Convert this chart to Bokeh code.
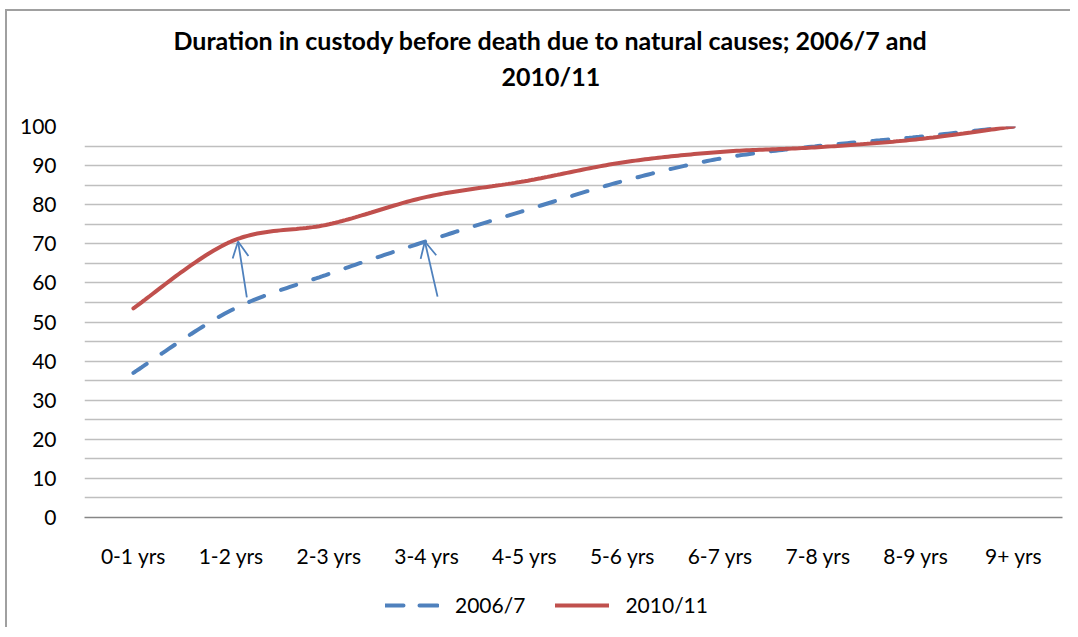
import numpy as np
from bokeh.plotting import figure
from bokeh.layouts import column
from bokeh.models import (FixedTicker, Legend, LegendItem, Title, Arrow, OpenHead,
                          Range1d)
from bokeh.embed import file_html
from bokeh.resources import INLINE

categories = ["0-1 yrs", "1-2 yrs", "2-3 yrs", "3-4 yrs", "4-5 yrs",
              "5-6 yrs", "6-7 yrs", "7-8 yrs", "8-9 yrs", "9+ yrs"]
s2006 = [37, 53, 62.3, 70.7, 78.5, 86, 91.8, 95, 97.3, 100]
s2010 = [53.5, 70.6, 75, 82, 86, 90.8, 93.5, 94.7, 96.7, 100]
y_ticks = [0, 10, 20, 30, 40, 50, 60, 70, 80, 90, 100]
series_names = ["2006/7", "2010/11"]
title_line1 = "Duration in custody before death due to natural causes; 2006/7 and"
title_line2 = "2010/11"

# annotation arrows (data coords: category index, value)
arrow_tail_x = [1.16, 3.11]
arrow_tail_y = [56.3, 56.5]
arrow_head_x = [1.07, 2.98]
arrow_head_y = [70.6, 70.6]

FONT = "Lato"
BLUE = "#4F81BD"
RED = "#C0504D"


def smooth(xs, ys, n=30):
    """Catmull-Rom rendering of the line through the given points."""
    pts = np.column_stack([xs, ys]).astype(float)
    p = np.vstack([pts[0], pts, pts[-1]])
    out = []
    for i in range(1, len(p) - 2):
        p0, p1, p2, p3 = p[i - 1], p[i], p[i + 1], p[i + 2]
        for t in np.linspace(0, 1, n, endpoint=False):
            t2, t3 = t * t, t * t * t
            pt = 0.5 * ((2 * p1) + (-p0 + p2) * t + (2 * p0 - 5 * p1 + 4 * p2 - p3) * t2
                        + (-p0 + 3 * p1 - 3 * p2 + p3) * t3)
            out.append(pt)
    out.append(pts[-1])
    out = np.array(out)
    return out[:, 0], out[:, 1]


xidx = list(range(len(categories)))

p = figure(frame_width=978, frame_height=391, output_backend="svg", toolbar_location=None,
           x_range=Range1d(-0.5, len(categories) - 0.5), y_range=Range1d(0, 100),
           min_border_left=77, min_border_right=8, min_border_top=115, min_border_bottom=60)
p.outline_line_color = None
p.background_fill_color = "white"

# title: spacer panel next to the frame, then the two title lines
spacer = Title(text=" ", text_font_size="2px", standoff=32)
t2 = Title(text=title_line2, align="left", offset=417, text_font=FONT,
           text_font_size="25px", text_font_style="bold", text_color="black", standoff=0)
t1 = Title(text=title_line1, align="left", offset=89, text_font=FONT,
           text_font_size="25px", text_font_style="bold", text_color="black", standoff=7)
p.add_layout(spacer, "above")
p.add_layout(t2, "above")
p.add_layout(t1, "above")

# axes
p.xaxis.ticker = FixedTicker(ticks=xidx)
p.xaxis.major_label_overrides = {i: c for i, c in enumerate(categories)}
p.xaxis.major_tick_line_color = None
p.xaxis.minor_tick_line_color = None
p.xaxis.axis_line_color = "#868686"
p.xaxis.axis_line_width = 1.5
p.xaxis.major_label_text_font = FONT
p.xaxis.major_label_text_font_size = "21px"
p.xaxis.major_label_text_color = "black"
p.xaxis.major_label_standoff = 19

p.yaxis.ticker = FixedTicker(ticks=y_ticks, minor_ticks=[v + 5 for v in y_ticks[:-1]])
p.yaxis.axis_line_color = None
p.yaxis.major_tick_line_color = None
p.yaxis.minor_tick_line_color = None
p.yaxis.major_label_text_font = FONT
p.yaxis.major_label_text_font_size = "21px"
p.yaxis.major_label_text_color = "black"
p.yaxis.major_label_standoff = 22

p.xgrid.grid_line_color = None
p.ygrid.grid_line_color = "#bfbfbf"
p.ygrid.grid_line_width = 1.5
p.ygrid.minor_grid_line_color = "#bfbfbf"
p.ygrid.minor_grid_line_width = 1.5

bx, by = smooth(xidx, s2006)
rx, ry = smooth(xidx, s2010)
blue_style = dict(line_color=BLUE, line_width=4, line_dash="16 18", line_cap="round")
red_style = dict(line_color=RED, line_width=4, line_cap="round")
p.line(bx, by, **blue_style)
p.line(rx, ry, **red_style)

for tx, ty, hx, hy in zip(arrow_tail_x, arrow_tail_y, arrow_head_x, arrow_head_y):
    p.add_layout(Arrow(end=OpenHead(size=16, line_color=BLUE, line_width=1.8),
                       x_start=tx, y_start=ty, x_end=hx, y_end=hy,
                       line_color=BLUE, line_width=1.8))

# legend strip below the chart (sample lines lie outside its ranges, only the keys show)
lf = figure(frame_width=1063, frame_height=50, output_backend="svg", toolbar_location=None,
            x_range=Range1d(0, 1), y_range=Range1d(0, 1), x_axis_type=None, y_axis_type=None,
            min_border=0)
lf.outline_line_color = None
lf.grid.visible = False
g1 = lf.line([5, 6], [5, 5], line_color=BLUE, line_width=4, line_dash="18 16",
             line_cap="round")
g2 = lf.line([5, 6], [5, 5], **red_style)
legend = Legend(items=[LegendItem(label=series_names[0], renderers=[g1]),
                       LegendItem(label=series_names[1], renderers=[g2])],
                orientation="horizontal", location=(378, 10),
                label_text_font=FONT, label_text_font_size="21px",
                label_text_color="black", glyph_width=54, glyph_height=20,
                spacing=30, label_standoff=16, border_line_color=None,
                background_fill_alpha=0, margin=0, padding=4)
lf.add_layout(legend, "center")

layout = column(p, lf, spacing=0)
layout.styles = {"margin-left": "5px", "margin-top": "9px",
                 "border-left": "2px solid #a0a0a0", "border-top": "2px solid #a0a0a0"}

open("out.html", "w").write(file_html(layout, INLINE))
